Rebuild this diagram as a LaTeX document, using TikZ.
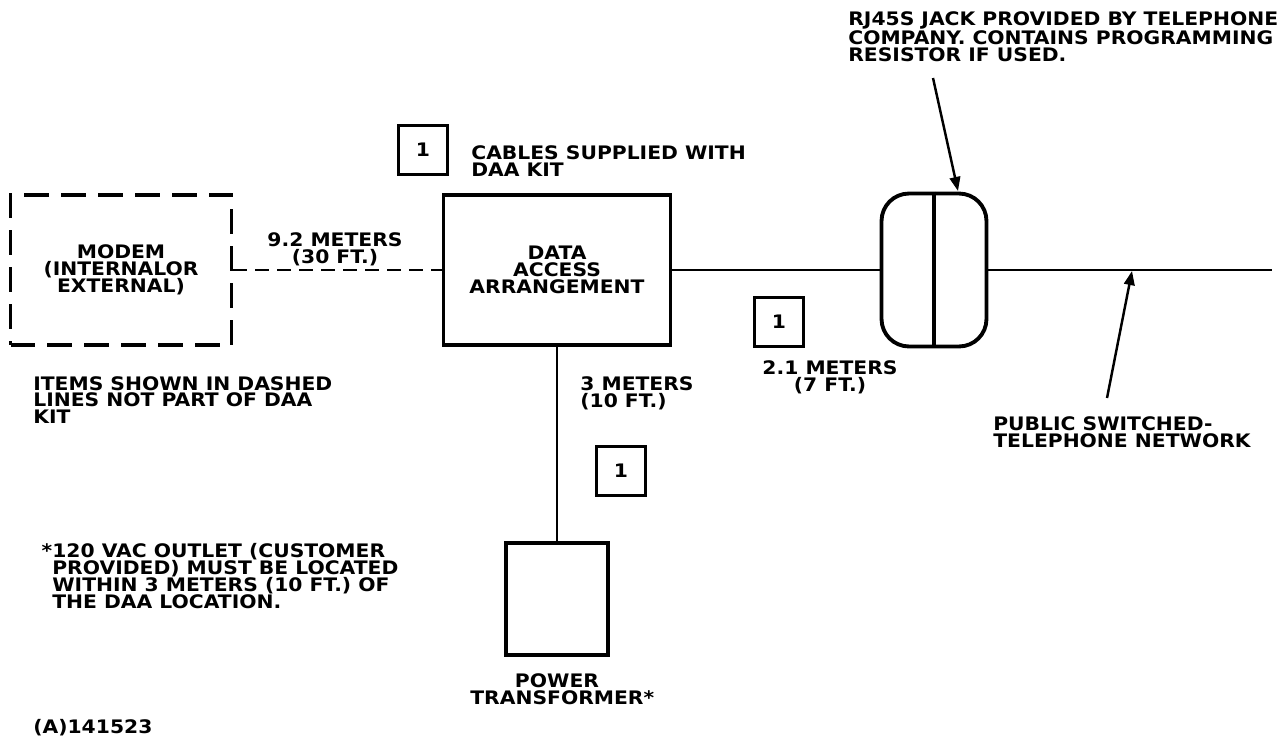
\documentclass[tikz,border=0pt]{standalone}
\usepackage{fontspec}
\newfontfamily\diafont[FakeStretch=1.09]{DejaVu Sans}
\usetikzlibrary{arrows.meta, positioning}

\begin{document}
\begin{tikzpicture}[
    x=0.02cm, y=-0.02cm,
    font=\diafont\bfseries\fontsize{10.6}{9.6}\selectfont,
    unitbox/.style={rectangle, draw=black, line width=2.2pt,
                align=center, inner sep=0pt},
    kitbox/.style={rectangle, draw=black, line width=2.2pt,
                minimum size=0.98cm, inner sep=0pt},
    note/.style={align=left, anchor=west, inner sep=0pt},
    cable/.style={line width=1.3pt},
    arrow/.style={-{Triangle[length=8pt,width=6pt]}, line width=1.4pt},
]
\useasboundingbox (0,0) rectangle (1284,740);

% Einheiten
\node[unitbox, dash pattern=on 14pt off 7pt,
    minimum width=4.42cm, minimum height=3cm] (modem) at (121,270)
    {MODEM\\(INTERNALOR\\EXTERNAL)};
\node[unitbox, minimum width=4.54cm, minimum height=3cm] (daa) at (557,270)
    {DATA\\ACCESS\\ARRANGEMENT};
\node[unitbox, rounded corners=0.55cm,
    minimum width=2.1cm, minimum height=3.06cm] (jack) at (934,270) {};
\draw[line width=2pt] (jack.north) -- (jack.south);
\node[unitbox, minimum width=2.04cm, minimum height=2.24cm] (xfmr) at (557,599) {};
\coordinate (pstn) at (1272,270);

% Kabel
\draw[cable, dash pattern=on 8pt off 4.5pt] (modem.east) -- (daa.west);
\draw[cable] (daa.east) -- (jack.west);
\draw[cable] (jack.east) -- (pstn);
\draw[cable] (daa.south) -- (xfmr.north);

% Kennzeichnung Kabel
\node[kitbox] (kit) at (423,150) {1};
\node[note] (kitnote) at (471,161) {CABLES SUPPLIED WITH\\DAA KIT};
\node[kitbox] (kitjack) at (779,322) {1};
\node[kitbox] (kitxfmr) at (621,471) {1};

% Laengen
\node[align=center, inner sep=0pt] (len1) at (335,249) {9.2 METERS\\(30 FT.)};
\node[align=center, inner sep=0pt] (len2) at (830,377) {2.1 METERS\\(7 FT.)};
\node[note] (len3) at (580,393) {3 METERS\\(10 FT.)};

% Beschriftungen
\node[note] (jacknote) at (848,37)
    {RJ45S JACK PROVIDED BY TELEPHONE\\COMPANY. CONTAINS PROGRAMMING\\RESISTOR IF USED.};
\node[note] (netnote) at (993,432) {PUBLIC SWITCHED-\\TELEPHONE NETWORK};
\node[note] (dashnote) at (33,400)
    {ITEMS SHOWN IN DASHED\\LINES NOT PART OF DAA\\KIT};
\node[note] (acnote) at (52,576)
    {\llap{*}120 VAC OUTLET (CUSTOMER\\PROVIDED) MUST BE LOCATED\\WITHIN 3 METERS (10 FT.) OF\\THE DAA LOCATION.};
\node[align=center, inner sep=0pt] (xfmrlabel) at (557,689)
    {POWER\\TRANSFORMER\rlap{*}};
\node[note] (figid) at (33,728) {(A)141523};

% Pfeile
\coordinate (jacktail) at (933,78);
\coordinate (jacktip) at (958,191);
\draw[arrow] (jacktail) -- (jacktip);
\coordinate (nettail) at (1107,398);
\coordinate (nettip) at (1132,271);
\draw[arrow] (nettail) -- (nettip);

\end{tikzpicture}
\end{document}
